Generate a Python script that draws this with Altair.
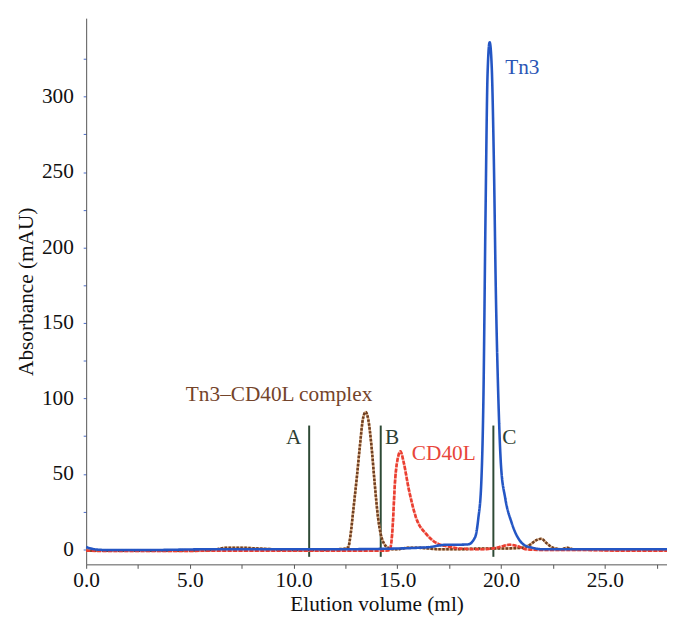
import altair as alt
import pandas as pd

# ---- data ----
complex_x = [0, 2, 4, 6, 6.8, 7.5, 8.3, 9, 10, 11, 12, 12.45, 12.63, 12.75, 12.87, 13.05, 13.2, 13.35, 13.48, 13.6, 13.75, 13.9, 14.07, 14.2, 14.37, 14.55, 14.8, 15.0, 15.5, 16, 17, 18, 19, 20, 21, 21.4, 21.7, 21.94, 22.2, 22.5, 22.9, 23.2, 23.5, 24, 26, 28]
complex_y = [-1, -1, -1, -0.5, 1, 1, 0.5, 0, -0.5, -0.5, 0, 0.3, 1.3, 10, 25, 48, 69, 87, 91, 86, 69, 45, 21, 10, 3.5, 1, 0, 0, 1, 1, 0, 0, 0.5, 0.5, 1, 3, 6, 7, 4, 1, 0, 1, 0, 0, 0, 0]

cd40l_x = [0, 2, 4, 6, 8, 10, 12, 14, 14.55, 14.65, 14.75, 14.9, 15.05, 15.15, 15.3, 15.55, 15.9, 16.4, 17.0, 17.4, 18, 19, 19.8, 20.4, 20.8, 21.2, 22, 24, 26, 28]
cd40l_y = [-1, -1.2, -1.2, -1, -1, -1, -1, -1, -0.8, 0, 10, 47, 62, 65, 58, 40, 21, 10, 3.3, 2, 0.5, 0, 1, 3, 2, 0, -0.5, -0.5, -1, -1]

tn3_x = [0, 0.4, 1, 3, 6, 9, 12, 15, 16, 16.6, 17.0, 17.4, 17.8, 18.4, 18.75, 18.9, 19.05, 19.15, 19.25, 19.35, 19.45, 19.55, 19.65, 19.75, 19.85, 20.0, 20.2, 20.5, 20.8, 21.1, 21.5, 22, 24, 26, 28]
tn3_y = [1.5, 0, -0.5, -0.5, 0, 0, 0, 0.5, 1, 1.5, 2.5, 3, 3, 3.2, 8, 20, 45, 100, 220, 315, 336, 320, 260, 170, 110, 55, 34, 18, 8, 3, 1, 0, 0, 0, 0]

series_names = ["Tn3–CD40L complex", "CD40L", "Tn3"]
series_colors = ["#6f3f22", "#ea3e30", "#2456c4"]
under_colors = ["#d7a77c", "#f7aaa2", "#2456c4"]

marker_names = ["A", "B", "C"]
marker_x = [10.75, 14.2, 19.63]
marker_lo = [-5, -5, -5]
marker_hi = [82, 82, 82]

x_ticks = [i * 2.5 for i in range(12)]
y_ticks = [i * 25 for i in range(14)]

rows = []
for name, xs, ys in [(series_names[0], complex_x, complex_y),
                     (series_names[1], cd40l_x, cd40l_y),
                     (series_names[2], tn3_x, tn3_y)]:
    for i, (a, b) in enumerate(zip(xs, ys)):
        rows.append({"series": name, "x": a, "y": b, "order": i})
df = pd.DataFrame(rows)

markers = pd.DataFrame({"name": marker_names, "x": marker_x, "lo": marker_lo, "hi": marker_hi})

labels = pd.DataFrame({
    "text": ["Tn3", "Tn3–CD40L complex", "CD40L", "A", "B", "C"],
    "x": [20.2, 9.3, 15.7, 10.0, 14.75, 20.4],
    "y": [319, 102, 63, 73.5, 73.5, 73.5],
    "align": ["left", "center", "left", "center", "center", "center"],
    "color": ["#2a55b5", "#74442a", "#e8453a", "#2f3f33", "#2f3f33", "#2f3f33"],
})

FONT = "Liberation Serif"
FS = 21.5

xscale = alt.Scale(domain=[0, 28], nice=False, zero=False)
yscale = alt.Scale(domain=[-10, 352], nice=False, zero=False)

xaxis = alt.Axis(values=x_ticks, labelExpr="datum.value % 5 == 0 ? format(datum.value, '.1f') : ''",
                 title="Elution volume (ml)", grid=False, tickSize=4, labelPadding=1, labelFlush=False,
                 titlePadding=3, domainColor="#555555", tickColor="#555555")
yaxis = alt.Axis(values=y_ticks, labelExpr="datum.value % 50 == 0 ? format(datum.value, 'd') : ''",
                 title="Absorbance (mAU)", grid=False, tickSize=3, labelPadding=10, labelFlush=False,
                 titlePadding=4, domainColor="#555555", tickColor="#4a6bc8")

base = alt.Chart(df).encode(
    x=alt.X("x:Q", scale=xscale, axis=xaxis),
    y=alt.Y("y:Q", scale=yscale, axis=yaxis),
    order="order:Q",
    detail="series:N",
)

under = base.transform_filter(alt.datum.series != "Tn3").mark_line(
    strokeWidth=2.6, interpolate="monotone", opacity=0.9
).encode(color=alt.Color("series:N", scale=alt.Scale(domain=series_names, range=under_colors), legend=None))

lines = base.mark_line(strokeWidth=2.6, interpolate="monotone").encode(
    color=alt.Color("series:N", scale=alt.Scale(domain=series_names, range=series_colors), legend=None),
    strokeDash=alt.StrokeDash("series:N", scale=alt.Scale(domain=series_names, range=[[2.5, 1.5], [4, 1.5], [1, 0]]), legend=None),
)

rules = alt.Chart(markers).mark_rule(color="#2e4a35", strokeWidth=2).encode(
    x="x:Q", y="lo:Q", y2="hi:Q"
)

text_left = alt.Chart(labels[labels["align"] == "left"]).mark_text(
    align="left", baseline="middle", font=FONT, fontSize=FS
).encode(x="x:Q", y="y:Q", text="text:N", color=alt.Color("color:N", scale=None))

text_center = alt.Chart(labels[labels["align"] == "center"]).mark_text(
    align="center", baseline="middle", font=FONT, fontSize=FS
).encode(x="x:Q", y="y:Q", text="text:N", color=alt.Color("color:N", scale=None))

chart = alt.layer(rules, under, lines, text_left, text_center).resolve_scale(
    color="independent"
).properties(
    width=587, height=552,
    autosize=alt.AutoSizeParams(type="none"),
    padding={"left": 79, "top": 7, "right": 0, "bottom": 56},
).configure_view(stroke=None).configure_axis(
    labelFont=FONT, titleFont=FONT, labelFontSize=FS, titleFontSize=FS,
    labelColor="#111111", titleColor="#111111", titleFontWeight="normal",
)

chart.save("out.html", embed_options={"renderer": "svg", "actions": False})
